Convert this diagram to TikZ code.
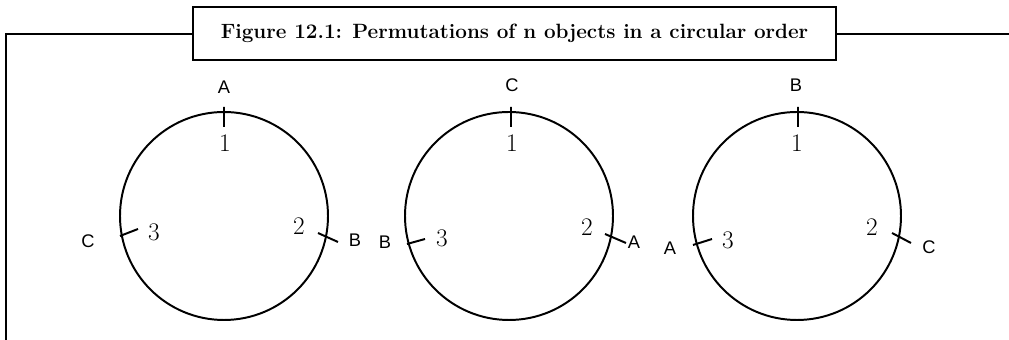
\documentclass[tikz,border=0pt]{standalone}
\usepackage{fontspec}
\newfontfamily\letterfont{Liberation Sans}
\usetikzlibrary{positioning,calc}
\tikzset{
  ring/.style={line width=1.4pt},
  ringmark/.style={line width=1.4pt},
  objlabel/.style={font=\letterfont\fontsize{13}{13}\selectfont, inner sep=0pt},
  poslabel/.style={font=\fontsize{18}{18}\selectfont, inner sep=0pt},
  titlebox/.style={draw, line width=1.9pt, fill=white, inner sep=0pt, minimum width=16.075cm, minimum height=1.325cm, font=\bfseries\fontsize{14.7}{16}\selectfont},
  frameline/.style={line width=1.9pt}
}

\begin{document}
\begin{tikzpicture}[x=0.025cm, y=0.025cm]
\useasboundingbox (0,0) rectangle (1009,340);
\draw[frameline] (1009,306) -- (6,306) -- (6,0);
\node[titlebox] (title) at (514.5,306.5) {Figure 12.1: Permutations of n objects in a circular order};

\coordinate (o1) at (224,124);
\draw[ring] (o1) circle (104);
\draw[ringmark] ($(o1)+(0,89)$) -- ($(o1)+(0,109)$) ($(o1)+(94,-17)$) -- ($(o1)+(114,-26)$) ($(o1)+(-104,-20)$) -- ($(o1)+(-86,-13)$);
\node[objlabel] (top1) at ($(o1)+(0,129)$) {A};
\node[objlabel] (right1) at ($(o1)+(131,-24)$) {B};
\node[objlabel] (left1) at ($(o1)+(-136,-25)$) {C};
\node[poslabel] (one1) at ($(o1)+(1,73)$) {1};
\node[poslabel] (two1) at ($(o1)+(75,-10)$) {2};
\node[poslabel] (three1) at ($(o1)+(-70,-16)$) {3};

\coordinate (o2) at (509,124);
\draw[ring] (o2) circle (104);
\draw[ringmark] ($(o2)+(2,89)$) -- ($(o2)+(2,109)$) ($(o2)+(96,-18)$) -- ($(o2)+(117,-27)$) ($(o2)+(-102,-28)$) -- ($(o2)+(-84,-23)$);
\node[objlabel] (top2) at ($(o2)+(3,131)$) {C};
\node[objlabel] (right2) at ($(o2)+(125,-26)$) {A};
\node[objlabel] (left2) at ($(o2)+(-124,-26)$) {B};
\node[poslabel] (one2) at ($(o2)+(3,73)$) {1};
\node[poslabel] (two2) at ($(o2)+(78,-11)$) {2};
\node[poslabel] (three2) at ($(o2)+(-67,-22)$) {3};

\coordinate (o3) at (797,124);
\draw[ring] (o3) circle (104);
\draw[ringmark] ($(o3)+(1,89)$) -- ($(o3)+(1,109)$) ($(o3)+(95,-17)$) -- ($(o3)+(114,-27)$) ($(o3)+(-104,-29)$) -- ($(o3)+(-85,-23)$);
\node[objlabel] (top3) at ($(o3)+(-1,131)$) {B};
\node[objlabel] (right3) at ($(o3)+(132,-31)$) {C};
\node[objlabel] (left3) at ($(o3)+(-127,-32)$) {A};
\node[poslabel] (one3) at ($(o3)+(0,73)$) {1};
\node[poslabel] (two3) at ($(o3)+(75,-11)$) {2};
\node[poslabel] (three3) at ($(o3)+(-69,-24)$) {3};
\end{tikzpicture}
\end{document}
